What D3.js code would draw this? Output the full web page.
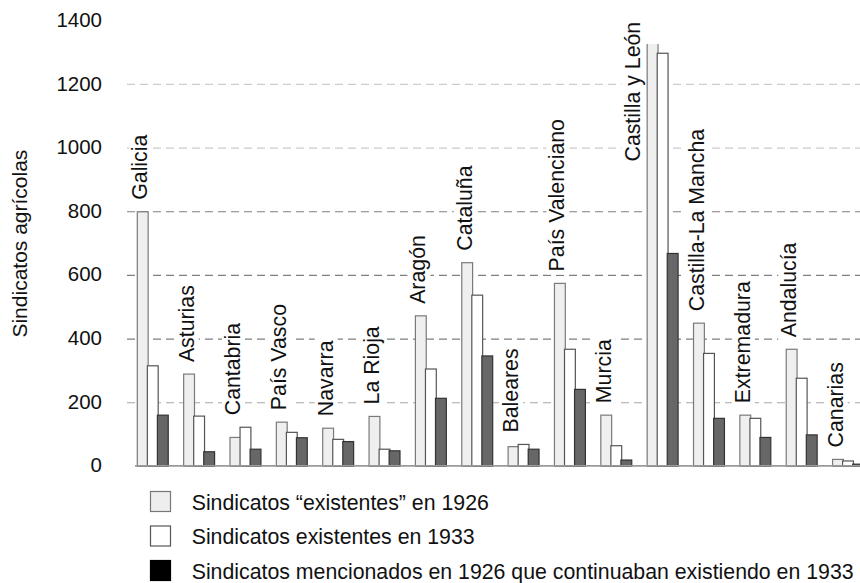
<!DOCTYPE html>
<html>
<head>
<meta charset="utf-8">
<script src="https://cdn.jsdelivr.net/npm/d3@7"></script>
<style>
  html, body { margin: 0; padding: 0; background: #fff; }
  svg { display: block; font-family: "Liberation Sans", Arial, Helvetica, sans-serif; }
</style>
</head>
<body>
<svg id="chart" width="860" height="583"></svg>
<script>
// ---- data ----
const regions = ["Galicia","Asturias","Cantabria","País Vasco","Navarra","La Rioja","Aragón","Cataluña",
                 "Baleares","País Valenciano","Murcia","Castilla y León","Castilla-La Mancha","Extremadura",
                 "Andalucía","Canarias"];
const existentes1926 = [800,290,91,139,120,157,473,640,62,575,161,1420,450,161,368,22];
const existentes1933 = [316,158,123,107,85,54,306,538,69,368,65,1298,355,151,277,17];
const continuaban    = [161,46,54,90,78,49,214,347,54,242,20,669,151,91,99,7];
const yTicks = [0,200,400,600,800,1000,1200,1400];
const seriesKeys = ["e1926","e1933","cont"];
const legendLabels = ["Sindicatos \u201cexistentes\u201d en 1926",
                      "Sindicatos existentes en 1933",
                      "Sindicatos mencionados en 1926 que continuaban existiendo en 1933"];
const yTitle = "Sindicatos agrícolas";

// ---- styles ----
const FONT = 20.5;
const LFONT = 21.3;
const barFill   = {e1926:"#efefef", e1933:"#ffffff", cont:"#676767"};
const barStroke = {e1926:"#7a7a7a", e1933:"#555555", cont:"#333333"};
const legFill   = ["#eeeeee","#ffffff","#000000"];
const legStroke = ["#777777","#555555","#000000"];

const svg = d3.select("#chart");
svg.append("rect").attr("width",860).attr("height",583).attr("fill","#fff");

const y = d3.scaleLinear().domain([0,1400]).range([466.4,20.8]);
const x = d3.scaleBand().domain(regions).range([137.3, 862.7]).paddingInner(0.35).paddingOuter(0);
const xs = d3.scaleBand().domain(seriesKeys).range([0, x.bandwidth()]);

const rows = regions.map((r,i)=>({region:r, e1926:existentes1926[i], e1933:existentes1933[i], cont:continuaban[i]}));

// gridlines
const gridColor = v => v >= 1000 ? "#cccccc" : (v === 200 ? "#a8a8a8" : "#7f7f7f");
svg.append("g").selectAll("line")
  .data(yTicks.filter(v => v > 0 && v < 1400))
  .join("line")
  .attr("x1",127).attr("x2",860)
  .attr("y1",d=>y(d)).attr("y2",d=>y(d))
  .attr("stroke",gridColor)
  .attr("stroke-width",1.2)
  .attr("stroke-dasharray","8,5");

// y axis labels
const yAxis = d3.axisLeft(y).tickValues(yTicks).tickSize(0).tickPadding(25).tickFormat(d3.format("d"));
const ga = svg.append("g").attr("transform","translate(127,-1)").call(yAxis);
ga.select(".domain").remove();
ga.selectAll("text").attr("font-size",FONT).attr("fill","#111").attr("font-family","\"Liberation Sans\", Arial, sans-serif");

// y title
svg.append("text")
  .attr("transform",`translate(26.5,${(y(0)+y(1400))/2})rotate(-90)`)
  .attr("text-anchor","middle")
  .attr("font-size",21).attr("fill","#111")
  .text(yTitle);

// region labels (with white background)
const clipTop = 44;
const labG = svg.append("g");
rows.forEach(d => {
  const x0 = x(d.region);
  const top = y(Math.max(d.e1926,d.e1933,d.cont));
  let tx, ty, anchor;
  if (top < clipTop) { tx = x0 - 7.5; ty = y(1400) + 1; anchor = "end"; }
  else { tx = x0 + 10; ty = top - 12; anchor = "start"; }
  const g = labG.append("g").attr("transform",`translate(${tx},${ty})rotate(-90)`);
  const bg = g.append("rect").attr("fill","#fff");
  const t = g.append("text").attr("text-anchor",anchor).attr("font-size",LFONT).attr("fill","#111").text(d.region);
  const bb = t.node().getBBox();
  bg.attr("x",bb.x-3).attr("y",bb.y+1).attr("width",bb.width+6).attr("height",bb.height-1);
});

// bars
svg.append("clipPath").attr("id","plotclip").append("rect")
  .attr("x",0).attr("y",clipTop).attr("width",860).attr("height",470-clipTop);
const barsG = svg.append("g").attr("clip-path","url(#plotclip)");
barsG.selectAll("g").data(rows).join("g")
  .attr("transform",d=>`translate(${x(d.region)},0)`)
  .selectAll("rect")
  .data(d => seriesKeys.map(k => ({k, v:d[k]})))
  .join("rect")
  .attr("x",d=>xs(d.k))
  .attr("width",xs.bandwidth()+0.8)
  .attr("y",d=>y(d.v))
  .attr("height",d=>y(0)-y(d.v))
  .attr("fill",d=>barFill[d.k])
  .attr("stroke",d=>barStroke[d.k])
  .attr("stroke-width",1.2);

// baseline
svg.append("line").attr("x1",135).attr("x2",860).attr("y1",y(0)-0.5).attr("y2",y(0)-0.5)
  .attr("stroke","#9a9a9a").attr("stroke-width",1.6);

// legend
const lg = svg.append("g").attr("transform","translate(150,491)");
const li = lg.selectAll("g").data(legendLabels).join("g")
  .attr("transform",(d,i)=>`translate(0,${i*34.5})`);
li.append("rect").attr("x",0.5).attr("y",0.5).attr("width",20).attr("height",20)
  .attr("fill",(d,i)=>legFill[i]).attr("stroke",(d,i)=>legStroke[i]).attr("stroke-width",1.2);
li.append("text").attr("x",41.7).attr("y",18.5).attr("font-size",LFONT).attr("fill","#111").text(d=>d);
</script>
</body>
</html>
